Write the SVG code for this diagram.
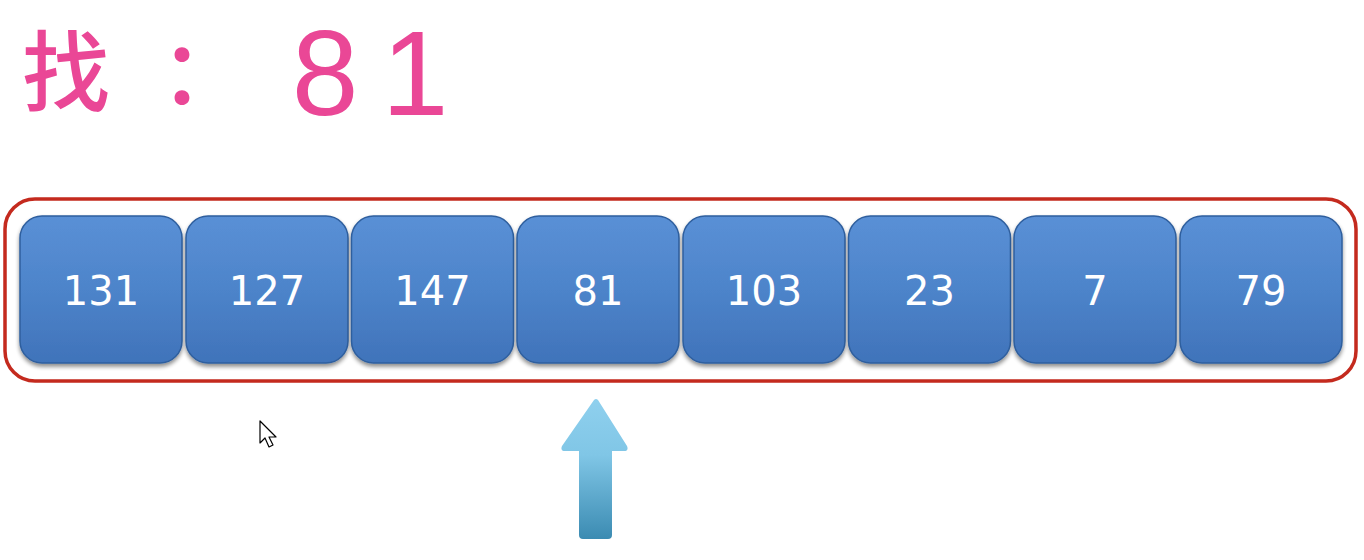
<svg xmlns="http://www.w3.org/2000/svg" width="1364" height="560" viewBox="0 0 1364 560">
<defs>
<linearGradient id="boxg" x1="0" y1="0" x2="0" y2="1">
<stop offset="0" stop-color="#5a90d6"/>
<stop offset="0.5" stop-color="#4d84ca"/>
<stop offset="1" stop-color="#4073ba"/>
</linearGradient>
<linearGradient id="arrg" x1="0" y1="0" x2="0" y2="1">
<stop offset="0" stop-color="#8fd0ee"/>
<stop offset="0.4" stop-color="#80c6e6"/>
<stop offset="1" stop-color="#3b8bb2"/>
</linearGradient>
<filter id="sh" x="-10%" y="-10%" width="120%" height="130%">
<feGaussianBlur in="SourceAlpha" stdDeviation="2"/>
<feOffset dy="3"/>
<feComponentTransfer><feFuncA type="linear" slope="0.45"/></feComponentTransfer>
<feMerge><feMergeNode/><feMergeNode in="SourceGraphic"/></feMerge>
</filter>
</defs>
<style>
.box{fill:url(#boxg);stroke:#2f5f9e;stroke-width:1.5;filter:url(#sh)}
.lbl{font-family:"DejaVu Sans",sans-serif;font-size:40px;fill:#ffffff;text-anchor:middle}
.title{font-family:"Noto Sans CJK SC",sans-serif;fill:#ea4796;font-weight:500}
.digit{font-family:"Liberation Sans",sans-serif;fill:#ea4796;font-size:120px;text-anchor:middle}
</style>
<rect width="1364" height="560" fill="#ffffff"/>
<g id="title">
<text class="title" x="22" y="104" font-size="88">找<tspan dx="50">：</tspan></text>
<text class="digit" x="325" y="115">8</text>
<text class="digit" x="415" y="115">1</text>
</g>
<g id="array-frame">
<rect x="5" y="199" width="1351" height="182" rx="30" ry="30" fill="none" stroke="#c42a1e" stroke-width="3.5"/>
</g>
<g id="node-0"><rect class="box" x="20" y="216" width="162" height="147" rx="22"/><text class="lbl" x="101" y="305">131</text></g>
<g id="node-1"><rect class="box" x="186" y="216" width="162" height="147" rx="22"/><text class="lbl" x="267" y="305">127</text></g>
<g id="node-2"><rect class="box" x="351.5" y="216" width="162" height="147" rx="22"/><text class="lbl" x="432.5" y="305">147</text></g>
<g id="node-3"><rect class="box" x="517" y="216" width="162" height="147" rx="22"/><text class="lbl" x="598" y="305">81</text></g>
<g id="node-4"><rect class="box" x="683" y="216" width="162" height="147" rx="22"/><text class="lbl" x="764" y="305">103</text></g>
<g id="node-5"><rect class="box" x="848.5" y="216" width="162" height="147" rx="22"/><text class="lbl" x="929.5" y="305">23</text></g>
<g id="node-6"><rect class="box" x="1014" y="216" width="162" height="147" rx="22"/><text class="lbl" x="1095" y="305">7</text></g>
<g id="node-7"><rect class="box" x="1180" y="216" width="162" height="147" rx="22"/><text class="lbl" x="1261" y="305">79</text></g>
<g id="connectors">
<path d="M594 400 Q596 398 598 400 L627 446 Q629 451 624 451 L612 451 L612 535 Q612 539 608 539 L583 539 Q579 539 579 535 L579 451 L565 451 Q560 451 562 446 Z" fill="url(#arrg)"/>
</g>
<g id="cursor">
<path d="M260 421 L260 443 L265 438 L269 447 L273 445 L269 437 L276 437 Z" fill="#ffffff" stroke="#000000" stroke-width="1.2" stroke-linejoin="round"/>
</g>
</svg>
